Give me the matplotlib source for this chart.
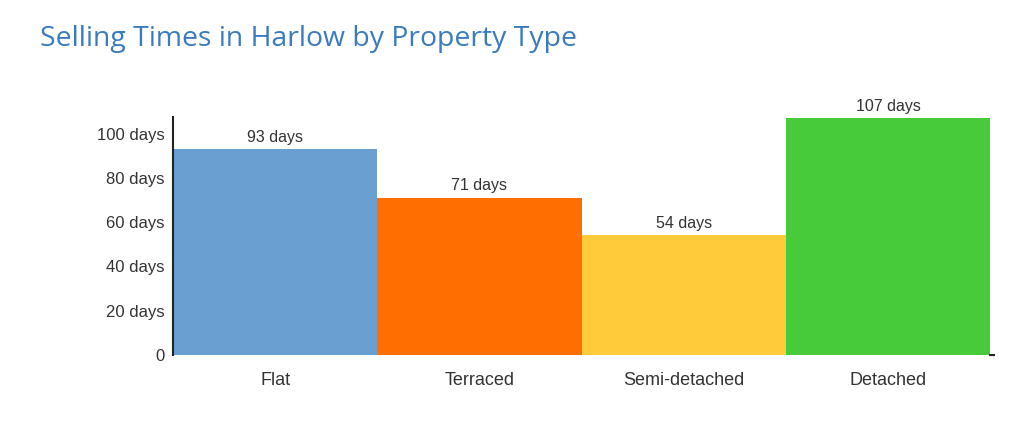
import matplotlib.pyplot as plt
import numpy as np

categories = ["Flat", "Terraced", "Semi-detached", "Detached"]
days = [93, 71, 54, 107]
colours = ["#699fd1", "#ff6e00", "#ffcb3b", "#47cb3a"]
yticks = [0, 20, 40, 60, 80, 100]
ytick_labels = ["0", "20 days", "40 days", "60 days", "80 days", "100 days"]

plt.rcParams["font.family"] = ["Liberation Sans", "DejaVu Sans"]

fig = plt.figure(figsize=(10.24, 4.21), dpi=100)
ax = fig.add_axes([0.169, 0.157, 0.798, 0.565])

x = np.arange(len(categories))
ax.bar(x, days, width=1.0, color=colours)

for xi, d in zip(x, days):
    ax.text(xi, d + 2.0, str(d) + " days", ha="center", va="bottom",
            fontsize=11.5, color="#333333")

ax.set_xlim(-0.5, 3.5)
ax.set_ylim(0, 107.5)
ax.set_yticks(yticks)
ax.set_yticklabels(ytick_labels)
ax.set_xticks(x)
ax.set_xticklabels(categories)
ax.tick_params(axis="y", length=0, pad=6, labelsize=12, labelcolor="#333333")
ax.tick_params(axis="x", length=0, pad=12, labelsize=13, labelcolor="#333333")

ax.spines["top"].set_visible(False)
ax.spines["right"].set_visible(False)
ax.spines["bottom"].set_visible(False)
ax.spines["left"].set_color("#222222")
ax.spines["left"].set_linewidth(1.5)
ax.plot([3.5, 3.52], [0, 0], color="#222222", lw=1.5, clip_on=False)

fig.text(0.039, 0.908, "Selling Times in Harlow by Property Type", fontsize=20.4,
         color="#3a7bc0", family="Open Sans", ha="left", va="center")

fig.savefig("out.png", dpi=100)
